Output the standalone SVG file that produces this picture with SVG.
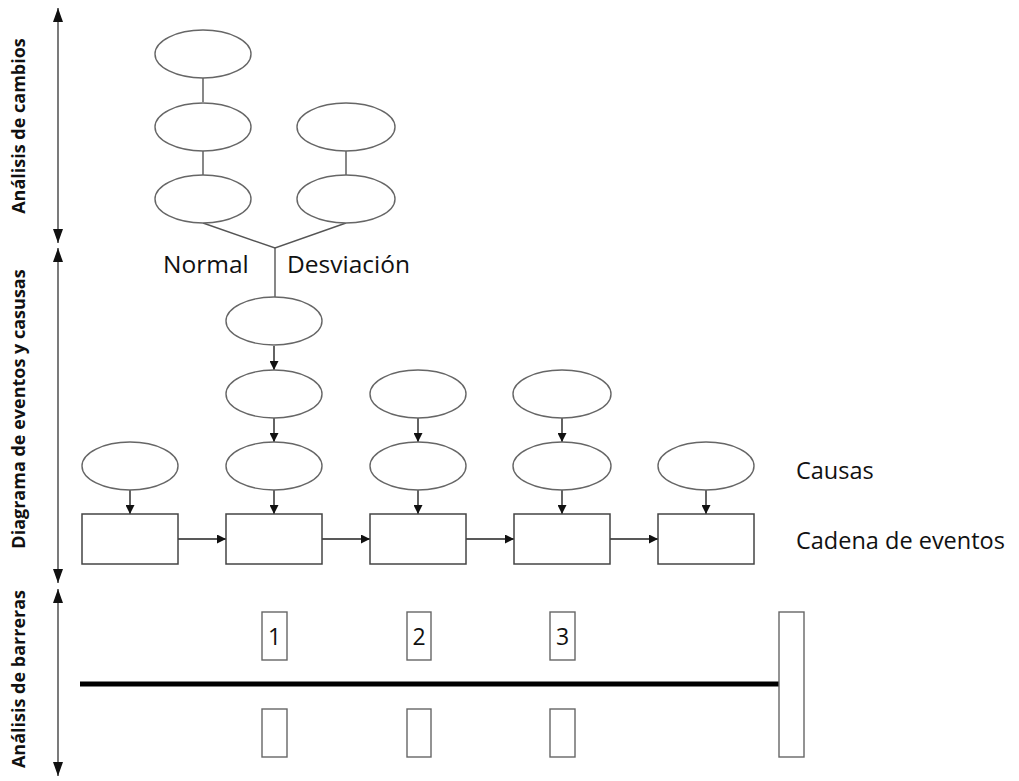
<svg xmlns="http://www.w3.org/2000/svg" width="1019" height="781" viewBox="0 0 1019 781">
  <style>
    .ell { fill: #fff; stroke: #666; stroke-width: 1.4; }
    .box { fill: #fff; stroke: #444; stroke-width: 1.5; }
    .bar { fill: #fff; stroke: #666; stroke-width: 1.4; }
    .link { stroke: #555; stroke-width: 1.4; fill: none; }
    .arr { stroke: #222; stroke-width: 1.4; fill: none; marker-end: url(#tip); }
    .axis { stroke: #333; stroke-width: 1.3; fill: none; marker-start: url(#axTip); marker-end: url(#axTip); }
    .side { font-family: "Open Sans", "DejaVu Sans", sans-serif; font-weight: bold; font-size: 18px; fill: #111; text-anchor: middle; }
    .lbl { font-family: "Open Sans", "DejaVu Sans", sans-serif; font-size: 23.5px; fill: #111; }
    .top { font-family: "Open Sans", "DejaVu Sans", sans-serif; font-size: 24.5px; fill: #111; }
    .num { font-family: "Open Sans", "DejaVu Sans", sans-serif; font-size: 23px; fill: #111; text-anchor: middle; }
  </style>
  <defs>
    <marker id="tip" viewBox="0 0 10 10" refX="10" refY="5" markerWidth="9" markerHeight="9" markerUnits="userSpaceOnUse" orient="auto">
      <path d="M0,0 L10,5 L0,10 Z" fill="#111"/>
    </marker>
    <marker id="axTip" viewBox="0 0 14 10" refX="14" refY="5" markerWidth="14" markerHeight="11" markerUnits="userSpaceOnUse" orient="auto-start-reverse">
      <path d="M0,0 L14,5 L0,10 Z" fill="#111"/>
    </marker>
  </defs>

  <!-- section axes with labels -->
  <g id="axes">
    <line class="axis" x1="58" y1="8" x2="58" y2="243"/>
    <line class="axis" x1="58" y1="248" x2="58" y2="583"/>
    <line class="axis" x1="58" y1="589" x2="58" y2="776"/>
    <text class="side" transform="translate(25,126) rotate(-90)">Análisis de cambios</text>
    <text class="side" transform="translate(25,409) rotate(-90)">Diagrama de eventos y casusas</text>
    <text class="side" transform="translate(25,679) rotate(-90)">Análisis de barreras</text>
  </g>

  <!-- connectors -->
  <g id="connectors">
    <line class="link" x1="203" y1="78" x2="203" y2="102"/>
    <line class="link" x1="203" y1="151" x2="203" y2="175"/>
    <line class="link" x1="346" y1="151" x2="346" y2="175"/>
    <polyline class="link" points="203,223 275,248 346,223"/>
    <line class="link" x1="275" y1="248" x2="275" y2="297"/>
    <line class="arr" x1="274" y1="346" x2="274" y2="370"/>
    <line class="arr" x1="274" y1="418" x2="274" y2="442"/>
    <line class="arr" x1="418" y1="418" x2="418" y2="442"/>
    <line class="arr" x1="562" y1="418" x2="562" y2="442"/>
    <line class="arr" x1="130" y1="490" x2="130" y2="514"/>
    <line class="arr" x1="274" y1="490" x2="274" y2="514"/>
    <line class="arr" x1="418" y1="490" x2="418" y2="514"/>
    <line class="arr" x1="562" y1="490" x2="562" y2="514"/>
    <line class="arr" x1="706" y1="490" x2="706" y2="514"/>
    <line class="arr" x1="178" y1="539" x2="226" y2="539"/>
    <line class="arr" x1="322" y1="539" x2="370" y2="539"/>
    <line class="arr" x1="466" y1="539" x2="514" y2="539"/>
    <line class="arr" x1="610" y1="539" x2="658" y2="539"/>
    <line x1="80" y1="684" x2="780" y2="684" stroke="#000" stroke-width="5"/>
  </g>

  <!-- change analysis -->
  <g id="normal1"><ellipse class="ell" cx="203" cy="54" rx="48" ry="24"/></g>
  <g id="normal2"><ellipse class="ell" cx="203" cy="127" rx="48" ry="24"/></g>
  <g id="normal3"><ellipse class="ell" cx="203" cy="199" rx="48" ry="24"/></g>
  <g id="dev1"><ellipse class="ell" cx="346" cy="127" rx="49" ry="24"/></g>
  <g id="dev2"><ellipse class="ell" cx="346" cy="199" rx="49" ry="24"/></g>
  <text class="top" x="163" y="273">Normal</text>
  <text class="top" x="287" y="273">Desviación</text>

  <!-- causes -->
  <g id="c1"><ellipse class="ell" cx="274" cy="321" rx="48" ry="24"/></g>
  <g id="c2"><ellipse class="ell" cx="274" cy="394" rx="48" ry="24"/></g>
  <g id="c3"><ellipse class="ell" cx="418" cy="394" rx="48" ry="24"/></g>
  <g id="c4"><ellipse class="ell" cx="562" cy="394" rx="49" ry="24"/></g>
  <g id="c5"><ellipse class="ell" cx="130" cy="466" rx="48" ry="24"/></g>
  <g id="c6"><ellipse class="ell" cx="274" cy="466" rx="48" ry="24"/></g>
  <g id="c7"><ellipse class="ell" cx="418" cy="466" rx="48" ry="24"/></g>
  <g id="c8"><ellipse class="ell" cx="562" cy="466" rx="49" ry="24"/></g>
  <g id="c9"><ellipse class="ell" cx="706" cy="466" rx="48" ry="24"/></g>

  <!-- event chain -->
  <g id="e1"><rect class="box" x="82" y="514" width="96" height="50"/></g>
  <g id="e2"><rect class="box" x="226" y="514" width="96" height="50"/></g>
  <g id="e3"><rect class="box" x="370" y="514" width="96" height="50"/></g>
  <g id="e4"><rect class="box" x="514" y="514" width="96" height="50"/></g>
  <g id="e5"><rect class="box" x="658" y="514" width="96" height="50"/></g>
  <text class="lbl" x="796" y="479">Causas</text>
  <text class="lbl" x="796" y="549">Cadena de eventos</text>

  <!-- barriers -->
  <g id="b1"><rect class="bar" x="262" y="612" width="25" height="48"/><text class="num" x="274.5" y="645">1</text></g>
  <g id="b2"><rect class="bar" x="407" y="612" width="24" height="48"/><text class="num" x="419" y="645">2</text></g>
  <g id="b3"><rect class="bar" x="550" y="612" width="25" height="48"/><text class="num" x="562.5" y="645">3</text></g>
  <g id="b1low"><rect class="bar" x="262" y="709" width="25" height="48"/></g>
  <g id="b2low"><rect class="bar" x="407" y="709" width="24" height="48"/></g>
  <g id="b3low"><rect class="bar" x="550" y="709" width="25" height="48"/></g>
  <g id="end"><rect class="bar" x="779" y="612" width="25" height="145"/></g>
</svg>
